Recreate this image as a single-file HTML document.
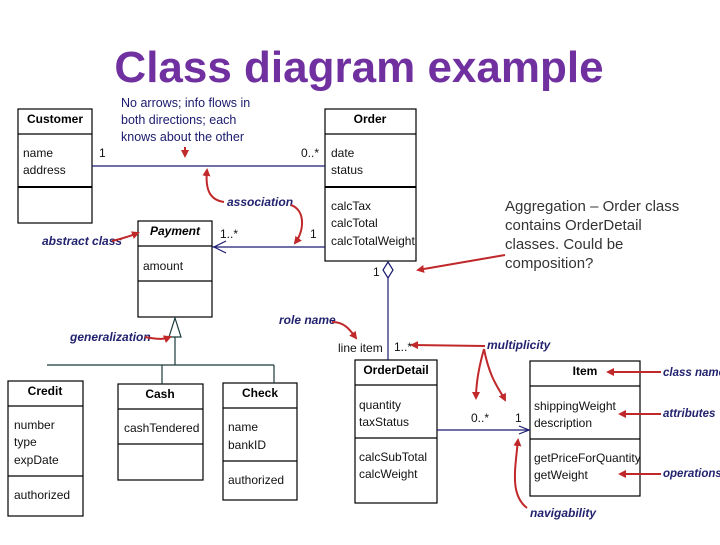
<!DOCTYPE html>
<html><head><meta charset="utf-8"><style>
body{margin:0;background:#fff}
svg text{font-family:"Liberation Sans",sans-serif}
.t{font-size:12px;fill:#111}
.b{font-size:12px;font-weight:bold;fill:#000}
.lab{font-size:12px;font-style:italic;font-weight:bold;fill:#22226e}
.labr{font-size:11.5px;font-style:italic;font-weight:bold;fill:#22226e}
</style></head><body>
<svg width="720" height="540" viewBox="0 0 720 540" xmlns="http://www.w3.org/2000/svg">
<defs><marker id="ra" markerWidth="8" markerHeight="8" refX="6" refY="4" orient="auto" markerUnits="userSpaceOnUse"><path d="M0,0 L8,4 L0,8 Z" fill="#c0282a"/></marker></defs>
<text x="359" y="82" text-anchor="middle" font-size="44" font-weight="bold" fill="#7030a0">Class diagram example</text>
<g fill="#fff" stroke="#000" stroke-width="1.2">
<rect x="18" y="109" width="74" height="114"/>
<rect x="325" y="109" width="91" height="152"/>
<rect x="138" y="221" width="74" height="96"/>
<rect x="8" y="381" width="75" height="135"/>
<rect x="118" y="384" width="85" height="96"/>
<rect x="223" y="383" width="74" height="117"/>
<rect x="355" y="360" width="82" height="143"/>
<rect x="530" y="361" width="110" height="135"/>
</g>
<g stroke="#000" stroke-width="1.2">
<line x1="18" y1="134" x2="92" y2="134"/><line x1="18" y1="187" x2="92" y2="187" stroke-width="2"/>
<line x1="325" y1="134" x2="416" y2="134"/><line x1="325" y1="187" x2="416" y2="187" stroke-width="2"/>
<line x1="138" y1="246" x2="212" y2="246"/><line x1="138" y1="281" x2="212" y2="281"/>
<line x1="8" y1="406" x2="83" y2="406"/><line x1="8" y1="476" x2="83" y2="476"/>
<line x1="118" y1="409" x2="203" y2="409"/><line x1="118" y1="444" x2="203" y2="444"/>
<line x1="223" y1="408" x2="297" y2="408"/><line x1="223" y1="461" x2="297" y2="461"/>
<line x1="355" y1="385" x2="437" y2="385"/><line x1="355" y1="438" x2="437" y2="438"/>
<line x1="530" y1="386" x2="640" y2="386"/><line x1="530" y1="439" x2="640" y2="439"/>
</g>
<text class="b" x="55" y="123" text-anchor="middle">Customer</text>
<text class="t" x="23" y="157">name</text><text class="t" x="23" y="174">address</text>
<text class="b" x="370" y="123" text-anchor="middle">Order</text>
<text class="t" x="331" y="157">date</text><text class="t" x="331" y="174">status</text>
<text class="t" x="331" y="210">calcTax</text><text class="t" x="331" y="227">calcTotal</text><text class="t" x="331" y="245">calcTotalWeight</text>
<text class="b" x="175" y="235" text-anchor="middle" font-style="italic">Payment</text>
<text class="t" x="143" y="270">amount</text>
<text class="b" x="45" y="395" text-anchor="middle">Credit</text>
<text class="t" x="14" y="429">number</text><text class="t" x="14" y="446">type</text><text class="t" x="14" y="464">expDate</text>
<text class="t" x="14" y="499">authorized</text>
<text class="b" x="160" y="398" text-anchor="middle">Cash</text>
<text class="t" x="124" y="432">cashTendered</text>
<text class="b" x="260" y="397" text-anchor="middle">Check</text>
<text class="t" x="228" y="431">name</text><text class="t" x="228" y="449">bankID</text>
<text class="t" x="228" y="484">authorized</text>
<text class="b" x="396" y="374" text-anchor="middle">OrderDetail</text>
<text class="t" x="359" y="409">quantity</text><text class="t" x="359" y="426">taxStatus</text>
<text class="t" x="359" y="461">calcSubTotal</text><text class="t" x="359" y="478">calcWeight</text>
<text class="b" x="585" y="375" text-anchor="middle">Item</text>
<text class="t" x="534" y="410">shippingWeight</text><text class="t" x="534" y="427">description</text>
<text class="t" x="534" y="462">getPriceForQuantity</text><text class="t" x="534" y="479">getWeight</text>
<g stroke="#1a1a70" stroke-width="1.2" fill="none">
<line x1="92" y1="166" x2="325" y2="166"/>
<line x1="212" y1="247" x2="325" y2="247"/>
<path d="M226,241 L214,247 L226,253"/>
<line x1="388" y1="278" x2="388" y2="360"/>
<path d="M388,262 L393,270 L388,278 L383,270 Z" fill="#fff"/>
<line x1="437" y1="430" x2="530" y2="430"/>
<path d="M519,426 L529,430 L519,434"/>
</g>
<g stroke="#1a3a3a" stroke-width="1.2" fill="none">
<path d="M175,318 L181,337 L169,337 Z" fill="#fff"/>
<line x1="175" y1="337" x2="175" y2="365"/>
<line x1="47" y1="365" x2="274" y2="365"/>
<line x1="162" y1="365" x2="162" y2="384"/>
<line x1="274" y1="365" x2="274" y2="383"/>
</g>
<text class="t" x="99" y="157">1</text><text class="t" x="301" y="157">0..*</text>
<text class="t" x="220" y="238">1..*</text><text class="t" x="310" y="238">1</text>
<text class="t" x="373" y="276">1</text>
<text class="t" x="338" y="352">line item</text><text class="t" x="394" y="351">1..*</text>
<text class="t" x="471" y="422">0..*</text><text class="t" x="515" y="422">1</text>
<g font-size="12.5" fill="#1a1a6e">
<text x="121" y="107">No arrows; info flows in</text>
<text x="121" y="124">both directions; each</text>
<text x="121" y="141">knows about the other</text>
</g>
<g font-size="15" fill="#333">
<text x="505" y="211">Aggregation – Order class</text>
<text x="505" y="230">contains OrderDetail</text>
<text x="505" y="249">classes.  Could be</text>
<text x="505" y="268">composition?</text>
</g>
<text class="lab" x="227" y="206">association</text>
<text class="lab" x="42" y="245">abstract class</text>
<text class="lab" x="70" y="341">generalization</text>
<text class="lab" x="279" y="324">role name</text>
<text class="lab" x="487" y="349">multiplicity</text>
<text class="labr" x="663" y="376">class name</text>
<text class="labr" x="663" y="417">attributes</text>
<text class="labr" x="663" y="477">operations</text>
<text class="lab" x="530" y="517">navigability</text>
<g stroke="#c0282a" stroke-width="2" fill="none" marker-end="url(#ra)">
<line x1="185" y1="147" x2="185" y2="156"/>
<path d="M224,202 C210,200 205,190 207,170"/>
<path d="M291,205 C305,210 305,230 295,243"/>
<path d="M112,241 C125,238 130,236 138,233"/>
<path d="M145,337 C160,340 165,339 170,337"/>
<path d="M332,322 C345,322 350,330 356,338"/>
<path d="M485,346 L412,345"/>
<path d="M484,349 C478,370 476,385 476,398"/>
<path d="M484,349 C490,380 500,390 505,400"/>
<path d="M661,372 L608,372"/>
<path d="M661,414 L620,414"/>
<path d="M661,474 L620,474"/>
<path d="M527,508 C510,495 515,470 518,440"/>
<path d="M505,255 L418,270"/>
</g>
</svg>
</body></html>
